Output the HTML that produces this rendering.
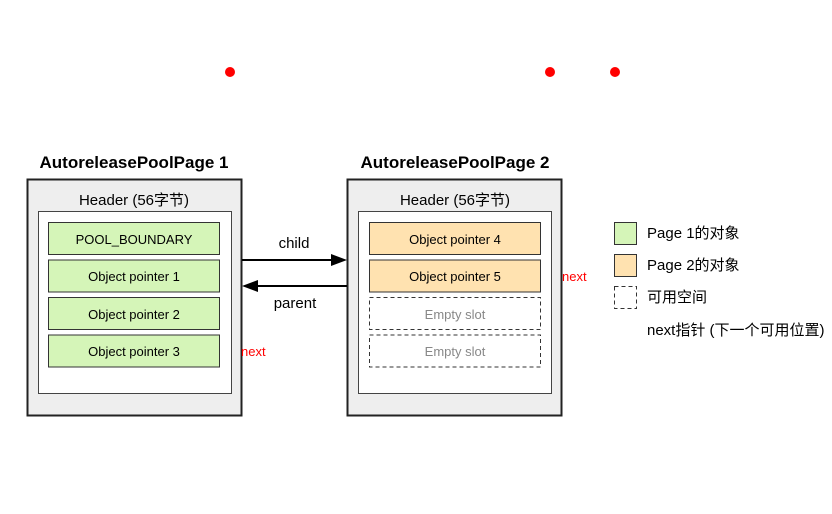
<!DOCTYPE html>
<html><head><meta charset="utf-8"><style>
body{margin:0;background:#fff;}
</style></head><body>
<svg width="832" height="514" xmlns="http://www.w3.org/2000/svg" style="display:block;font-family:'Liberation Sans','Noto Sans CJK SC',sans-serif">
<rect width="832" height="514" fill="#fff"/>
<circle cx="230" cy="72" r="5" fill="#f00"/>
<circle cx="550" cy="72" r="5" fill="#f00"/>
<circle cx="615" cy="72" r="5" fill="#f00"/>
<g font-size="17" font-weight="bold" text-anchor="middle" fill="#000">
<text x="134" y="168">AutoreleasePoolPage 1</text>
<text x="455" y="168">AutoreleasePoolPage 2</text>
</g>
<rect x="27.5" y="179.5" width="214" height="236" fill="#eee" stroke="#222" stroke-width="2"/>
<rect x="347.5" y="179.5" width="214" height="236" fill="#eee" stroke="#222" stroke-width="2"/>
<g font-size="15" text-anchor="middle" fill="#000">
<text x="134" y="205">Header (56字节)</text>
<text x="455" y="205">Header (56字节)</text>
</g>
<rect x="38.5" y="211.5" width="193" height="182" fill="#fff" stroke="#444"/>
<rect x="358.5" y="211.5" width="193" height="182" fill="#fff" stroke="#444"/>
<g stroke="#333" stroke-width="1">
<rect x="48.5" y="222.5" width="171" height="32" fill="#d5f5b8"/>
<rect x="48.5" y="260" width="171" height="32" fill="#d5f5b8"/>
<rect x="48.5" y="297.5" width="171" height="32" fill="#d5f5b8"/>
<rect x="48.5" y="335" width="171" height="32" fill="#d5f5b8"/>
<rect x="369.5" y="222.5" width="171" height="32" fill="#ffe2b0"/>
<rect x="369.5" y="260" width="171" height="32" fill="#ffe2b0"/>
<rect x="369.5" y="297.5" width="171" height="32" fill="#fff" stroke-dasharray="4 3"/>
<rect x="369.5" y="335" width="171" height="32" fill="#fff" stroke-dasharray="4 3"/>
</g>
<g font-size="13" text-anchor="middle" fill="#000">
<text x="134" y="244">POOL_BOUNDARY</text>
<text x="134" y="281">Object pointer 1</text>
<text x="134" y="319">Object pointer 2</text>
<text x="134" y="356">Object pointer 3</text>
<text x="455" y="244">Object pointer 4</text>
<text x="455" y="281">Object pointer 5</text>
<text x="455" y="319" fill="#888">Empty slot</text>
<text x="455" y="356" fill="#888">Empty slot</text>
</g>
<g font-size="13" fill="#f00">
<text x="241" y="356">next</text>
<text x="562" y="281">next</text>
</g>
<line x1="242" y1="260" x2="334" y2="260" stroke="#000" stroke-width="2"/>
<polygon points="347,260 331,254 331,266" fill="#000"/>
<line x1="255" y1="286" x2="347" y2="286" stroke="#000" stroke-width="2"/>
<polygon points="242,286 258,280 258,292" fill="#000"/>
<g font-size="15" text-anchor="middle" fill="#000">
<text x="294" y="248">child</text>
<text x="295" y="308">parent</text>
</g>
<rect x="614.5" y="222.5" width="22" height="22" fill="#d5f5b8" stroke="#333"/>
<rect x="614.5" y="254.5" width="22" height="22" fill="#ffe2b0" stroke="#333"/>
<rect x="614.5" y="286.5" width="22" height="22" fill="#fff" stroke="#333" stroke-dasharray="4 3"/>
<g font-size="15" fill="#000">
<text x="647" y="238">Page 1的对象</text>
<text x="647" y="270">Page 2的对象</text>
<text x="647" y="302">可用空间</text>
<text x="647" y="335">next指针 (下一个可用位置)</text>
</g>
</svg>
</body></html>
